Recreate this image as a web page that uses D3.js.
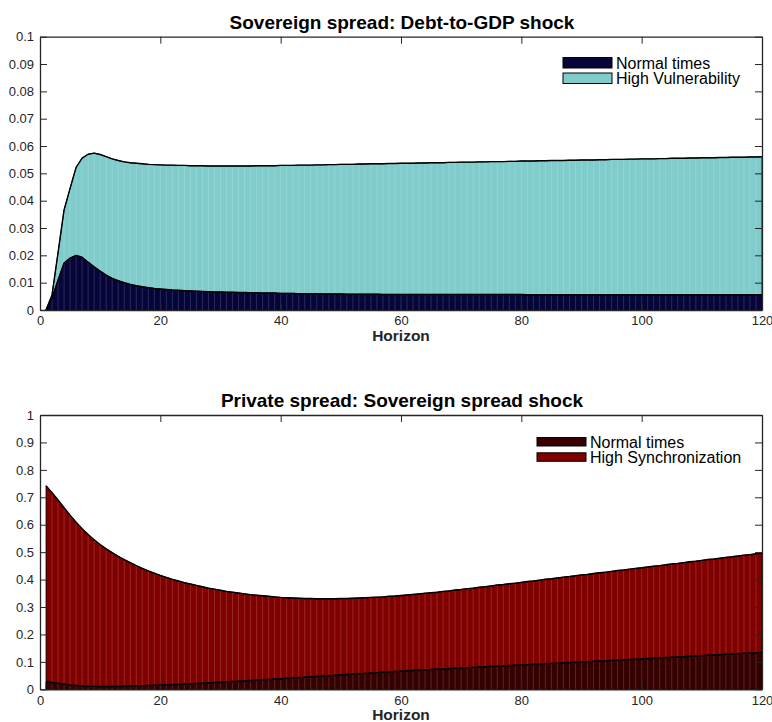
<!DOCTYPE html>
<html>
<head>
<meta charset="utf-8">
<script src="https://cdn.jsdelivr.net/npm/d3@7"></script>
<style>
  html, body { margin: 0; padding: 0; background: #ffffff; }
  svg { display: block; font-family: "Liberation Sans", Arial, Helvetica, sans-serif; }
</style>
</head>
<body>
<svg id="chart" width="772" height="722"></svg>
<script>
// Horizons 1..120
const horizon = d3.range(1, 121);

// Sovereign spread response to a debt-to-GDP shock
const sovNormal = [
  0, 0.0045, 0.0110, 0.0172, 0.0190, 0.0200, 0.0193, 0.0175, 0.0158, 0.0142,
  0.0128, 0.0116, 0.0107, 0.0100, 0.0094, 0.0089, 0.0085, 0.0082, 0.0079, 0.0077,
  0.0075, 0.0073, 0.0072, 0.0071, 0.0070, 0.0069, 0.0068, 0.0067, 0.0066, 0.0066,
  0.0065, 0.0065, 0.0064, 0.0064, 0.0063, 0.0063, 0.0062, 0.0062, 0.0062, 0.0061,
  0.0061, 0.0061, 0.0060, 0.0060, 0.0060, 0.0060, 0.0059, 0.0059, 0.0059, 0.0059,
  0.0058, 0.0058, 0.0058, 0.0058, 0.0058, 0.0058, 0.0057, 0.0057, 0.0057, 0.0057,
  0.0057, 0.0057, 0.0057, 0.0057, 0.0057, 0.0057, 0.0057, 0.0057, 0.0057, 0.0057,
  0.0057, 0.0057, 0.0057, 0.0057, 0.0057, 0.0057, 0.0057, 0.0057, 0.0057, 0.0057,
  0.0056, 0.0056, 0.0056, 0.0056, 0.0056, 0.0056, 0.0056, 0.0056, 0.0056, 0.0056,
  0.0056, 0.0056, 0.0056, 0.0056, 0.0056, 0.0056, 0.0056, 0.0056, 0.0056, 0.0056,
  0.0056, 0.0056, 0.0056, 0.0056, 0.0056, 0.0056, 0.0056, 0.0056, 0.0056, 0.0056,
  0.0056, 0.0056, 0.0056, 0.0056, 0.0056, 0.0056, 0.0056, 0.0056, 0.0056, 0.0056
];
const sovHighVuln = [
  0, 0.0055, 0.0210, 0.0366, 0.0445, 0.0522, 0.0556, 0.0570, 0.0574, 0.0569,
  0.0561, 0.0553, 0.0547, 0.0542, 0.0539, 0.0537, 0.0535, 0.0533, 0.0532, 0.0531,
  0.0530, 0.0530, 0.0529, 0.0529, 0.0528, 0.0528, 0.0528, 0.0527, 0.0527, 0.0527,
  0.0527, 0.0527, 0.0527, 0.0527, 0.0527, 0.0528, 0.0528, 0.0528, 0.0528, 0.0529,
  0.0529, 0.0529, 0.0530, 0.0530, 0.0530, 0.0531, 0.0531, 0.0532, 0.0532, 0.0533,
  0.0533, 0.0533, 0.0534, 0.0534, 0.0535, 0.0535, 0.0535, 0.0536, 0.0536, 0.0537,
  0.0537, 0.0537, 0.0538, 0.0538, 0.0539, 0.0539, 0.0539, 0.0540, 0.0540, 0.0541,
  0.0541, 0.0541, 0.0542, 0.0542, 0.0543, 0.0543, 0.0543, 0.0544, 0.0544, 0.0545,
  0.0545, 0.0545, 0.0546, 0.0546, 0.0547, 0.0547, 0.0547, 0.0548, 0.0548, 0.0549,
  0.0549, 0.0549, 0.0550, 0.0550, 0.0551, 0.0551, 0.0551, 0.0552, 0.0552, 0.0553,
  0.0553, 0.0553, 0.0554, 0.0554, 0.0555, 0.0555, 0.0555, 0.0556, 0.0556, 0.0557,
  0.0557, 0.0557, 0.0558, 0.0558, 0.0559, 0.0559, 0.0559, 0.0560, 0.0560, 0.0561
];

// Private spread response to a sovereign spread shock
const privNormal = [
  0.0280, 0.0250, 0.0220, 0.0190, 0.0160, 0.0140, 0.0120, 0.0110, 0.0105, 0.0102,
  0.0102, 0.0104, 0.0108, 0.0113, 0.0119, 0.0126, 0.0133, 0.0141, 0.0149, 0.0157,
  0.0166, 0.0175, 0.0185, 0.0195, 0.0205, 0.0215, 0.0226, 0.0237, 0.0248, 0.0259,
  0.0271, 0.0283, 0.0295, 0.0308, 0.0321, 0.0334, 0.0347, 0.0360, 0.0373, 0.0386,
  0.0400, 0.0414, 0.0428, 0.0442, 0.0456, 0.0470, 0.0484, 0.0498, 0.0512, 0.0526,
  0.0540, 0.0554, 0.0568, 0.0582, 0.0596, 0.0609, 0.0622, 0.0635, 0.0648, 0.0661,
  0.0674, 0.0686, 0.0698, 0.0710, 0.0722, 0.0734, 0.0746, 0.0757, 0.0768, 0.0779,
  0.0790, 0.0801, 0.0812, 0.0823, 0.0834, 0.0845, 0.0856, 0.0867, 0.0878, 0.0889,
  0.0900, 0.0911, 0.0922, 0.0933, 0.0944, 0.0955, 0.0966, 0.0977, 0.0988, 0.0999,
  0.1010, 0.1021, 0.1032, 0.1043, 0.1054, 0.1065, 0.1076, 0.1087, 0.1098, 0.1109,
  0.1121, 0.1133, 0.1145, 0.1157, 0.1169, 0.1181, 0.1193, 0.1205, 0.1217, 0.1229,
  0.1241, 0.1253, 0.1265, 0.1277, 0.1289, 0.1301, 0.1313, 0.1325, 0.1337, 0.1349
];
const privHighSync = [
  0.742, 0.717, 0.690, 0.662, 0.635, 0.609, 0.585, 0.564, 0.545, 0.528,
  0.512, 0.498, 0.485, 0.473, 0.462, 0.451, 0.441, 0.432, 0.423, 0.415,
  0.408, 0.401, 0.395, 0.389, 0.384, 0.379, 0.374, 0.369, 0.365, 0.361,
  0.357, 0.354, 0.351, 0.348, 0.345, 0.343, 0.341, 0.339, 0.337, 0.335,
  0.334, 0.333, 0.332, 0.331, 0.331, 0.330, 0.330, 0.330, 0.330, 0.331,
  0.331, 0.332, 0.333, 0.334, 0.335, 0.336, 0.337, 0.339, 0.340, 0.342,
  0.344, 0.346, 0.348, 0.350, 0.352, 0.354, 0.357, 0.359, 0.362, 0.364,
  0.367, 0.369, 0.372, 0.374, 0.377, 0.380, 0.382, 0.385, 0.387, 0.390,
  0.393, 0.395, 0.398, 0.401, 0.403, 0.406, 0.409, 0.411, 0.414, 0.417,
  0.419, 0.422, 0.425, 0.427, 0.430, 0.433, 0.435, 0.438, 0.441, 0.443,
  0.446, 0.449, 0.451, 0.454, 0.457, 0.459, 0.462, 0.465, 0.467, 0.470,
  0.473, 0.475, 0.478, 0.481, 0.483, 0.486, 0.489, 0.491, 0.494, 0.497
];

const xTicks = [0, 20, 40, 60, 80, 100, 120];
const yTicksTop = [0, 0.01, 0.02, 0.03, 0.04, 0.05, 0.06, 0.07, 0.08, 0.09, 0.1];
const yTicksBottom = [0, 0.1, 0.2, 0.3, 0.4, 0.5, 0.6, 0.7, 0.8, 0.9, 1];

const panels = [
  {
    title: "Sovereign spread: Debt-to-GDP shock",
    top: 36.7, bottom: 310, yMax: 0.1, yTicks: yTicksTop,
    series: [
      { name: "High Vulnerability", values: sovHighVuln, fill: "#80cccc" },
      { name: "Normal times", values: sovNormal, fill: "#05053a" }
    ],
    legendOrder: ["Normal times", "High Vulnerability"],
    legendX: 563, legendY: 57.5, legendStep: 15.5, legendW: 49, legendH: 10.5
  },
  {
    title: "Private spread: Sovereign spread shock",
    top: 415, bottom: 689.3, yMax: 1, yTicks: yTicksBottom,
    series: [
      { name: "High Synchronization", values: privHighSync, fill: "#800000" },
      { name: "Normal times", values: privNormal, fill: "#360000" }
    ],
    legendOrder: ["Normal times", "High Synchronization"],
    legendX: 537, legendY: 437.5, legendStep: 15.3, legendW: 49, legendH: 8.5
  }
];

const svg = d3.select("#chart");
const left = 40, right = 762;
const axisColor = "#262626";

panels.forEach(p => {
  const x = d3.scaleLinear().domain([0, 120]).range([left, right]);
  const y = d3.scaleLinear().domain([0, p.yMax]).range([p.bottom, p.top]);
  const g = svg.append("g");

  p.series.forEach(s => {
    const pts = horizon.map((h, i) => ({ h, v: s.values[i] }));
    const area = d3.area().x(d => x(d.h)).y0(y(0)).y1(d => y(d.v));
    const line = d3.line().x(d => x(d.h)).y(d => y(d.v));

    g.append("path").datum(pts)
      .attr("d", area)
      .attr("fill", s.fill)
      .attr("stroke", "#000")
      .attr("stroke-width", 0.8);

    // faint seams between the unit-width slices
    g.append("g").selectAll("line").data(pts.slice(1, -1)).join("line")
      .attr("x1", d => x(d.h)).attr("x2", d => x(d.h))
      .attr("y1", y(0)).attr("y2", d => y(d.v) + 1)
      .attr("stroke", "#ffffff")
      .attr("stroke-opacity", 0.22)
      .attr("stroke-width", 0.7);

    g.append("path").datum(pts)
      .attr("d", line)
      .attr("fill", "none")
      .attr("stroke", "#000")
      .attr("stroke-width", 1.4)
      .attr("stroke-linejoin", "round");
  });

  // box axes with inward ticks
  const tickLen = 7;
  const axB = g.append("g").attr("transform", `translate(0,${p.bottom})`)
    .call(d3.axisBottom(x).tickValues(xTicks).tickSizeInner(-tickLen).tickSizeOuter(0).tickPadding(6).tickFormat(d3.format("d")));
  const axT = g.append("g").attr("transform", `translate(0,${p.top})`)
    .call(d3.axisTop(x).tickValues(xTicks).tickSizeInner(-tickLen).tickSizeOuter(0).tickFormat(""));
  const axL = g.append("g").attr("transform", `translate(${left},0)`)
    .call(d3.axisLeft(y).tickValues(p.yTicks).tickSizeInner(-tickLen).tickSizeOuter(0).tickPadding(6).tickFormat(d => d === 0 ? "0" : d3.format("~g")(d)));
  const axR = g.append("g").attr("transform", `translate(${right},0)`)
    .call(d3.axisRight(y).tickValues(p.yTicks).tickSizeInner(-tickLen).tickSizeOuter(0).tickFormat(""));

  [axB, axT, axL, axR].forEach(a => {
    a.select(".domain").attr("stroke", axisColor).attr("stroke-width", 1.3);
    a.selectAll(".tick line").attr("stroke", axisColor).attr("stroke-width", 1);
    a.selectAll(".tick text").attr("fill", axisColor)
      .attr("font-size", 13).attr("font-family", "Liberation Sans, Arial, sans-serif");
  });

  g.append("text")
    .attr("x", (left + right) / 2 + 1).attr("y", p.top - 8)
    .attr("text-anchor", "middle")
    .attr("font-size", 19).attr("font-weight", "bold").attr("fill", "#000")
    .text(p.title);

  g.append("text")
    .attr("x", (left + right) / 2).attr("y", p.bottom + 31)
    .attr("text-anchor", "middle")
    .attr("font-size", 15.5).attr("font-weight", "bold").attr("fill", axisColor)
    .text("Horizon");

  // legend
  const lg = g.append("g");
  p.legendOrder.forEach((name, i) => {
    const s = p.series.find(d => d.name === name);
    const yy = p.legendY + i * p.legendStep;
    lg.append("rect")
      .attr("x", p.legendX).attr("y", yy)
      .attr("width", p.legendW).attr("height", p.legendH)
      .attr("fill", s.fill).attr("stroke", "#000").attr("stroke-width", 1);
    lg.append("text")
      .attr("x", p.legendX + p.legendW + 4).attr("y", yy + p.legendH / 2)
      .attr("dy", "0.36em")
      .attr("font-size", 16).attr("fill", "#000")
      .text(name);
  });
});
</script>
</body>
</html>
